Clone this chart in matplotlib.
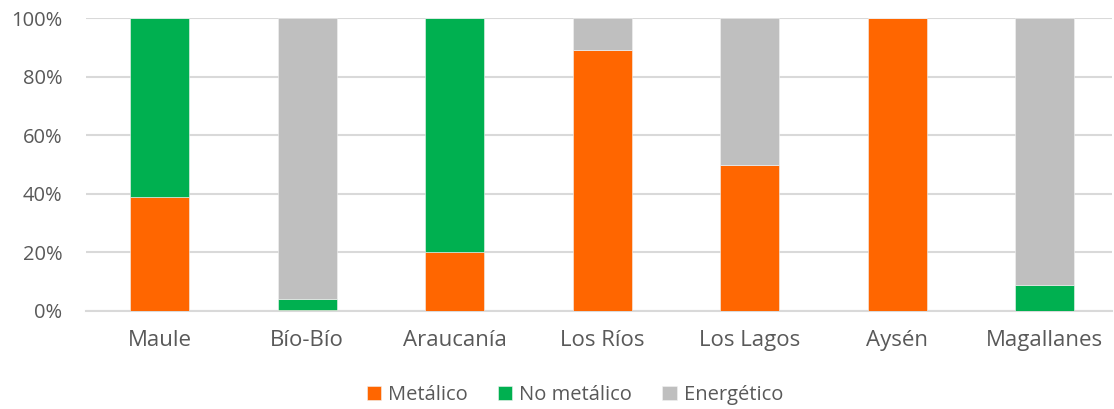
""" stacked share of mining by region """

import numpy as np
from matplotlib import pyplot as plt
from matplotlib.ticker import PercentFormatter

REGIONS = ["Maule", "Bío-Bío", "Araucanía", "Los Ríos", "Los Lagos", "Aysén", "Magallanes"]
SERIES = ["Metálico", "No metálico", "Energético"]
METALICO = [39, 0.5, 20, 89, 50, 100, 0]
NO_METALICO = [61, 3.6, 80, 0, 0, 0, 9]
ENERGETICO = [0, 95.9, 0, 11, 50, 0, 91]
COLORS = ["#FF6600", "#00B050", "#BFBFBF"]

plt.rcParams['font.family'] = ['Open Sans', 'DejaVu Sans']

W, H = 1114, 409
fig = plt.figure(figsize=(W / 100, H / 100), dpi=100)
ax = fig.add_axes([85.75 / W, 98 / H, (1112 - 85.75) / W, 293 / H])

x = np.arange(len(REGIONS))
bottom = np.zeros(len(REGIONS))
for name, vals, col in zip(SERIES, [METALICO, NO_METALICO, ENERGETICO], COLORS):
    vals = np.array(vals, dtype=float)
    ax.bar(x, vals, width=0.4, bottom=bottom, color=col, label=name,
           edgecolor="#F2F2F2", linewidth=0.4, zorder=3)
    bottom += vals

ax.set_xlim(-0.5, -0.5 + (1112 - 85.75) / 147.5)
ax.set_ylim(0, 100)
ax.set_yticks(range(0, 101, 20))
ax.yaxis.set_major_formatter(PercentFormatter(decimals=0))
ax.set_xticks(x)
ax.set_xticklabels(REGIONS)

ax.grid(axis='y', color="#D9D9D9", linewidth=1.5, zorder=0)
ax.grid(axis='x', visible=False)
for side in ["top", "right", "left"]:
    ax.spines[side].set_visible(False)
ax.spines["bottom"].set_color("#D9D9D9")
ax.spines["bottom"].set_linewidth(1.5)
ax.tick_params(length=0, colors="#595959")
ax.tick_params(axis='y', labelsize=14.5, pad=17)
ax.tick_params(axis='x', labelsize=16, pad=14)

ax.legend(loc='center', bbox_to_anchor=(575 / W, (H - 395) / H), bbox_transform=fig.transFigure,
          ncol=3, frameon=False, fontsize=14.5, labelcolor="#595959",
          handlelength=0.7, handleheight=0.7, handletextpad=0.35, columnspacing=1.5)

fig.savefig("out.png", dpi=100)
